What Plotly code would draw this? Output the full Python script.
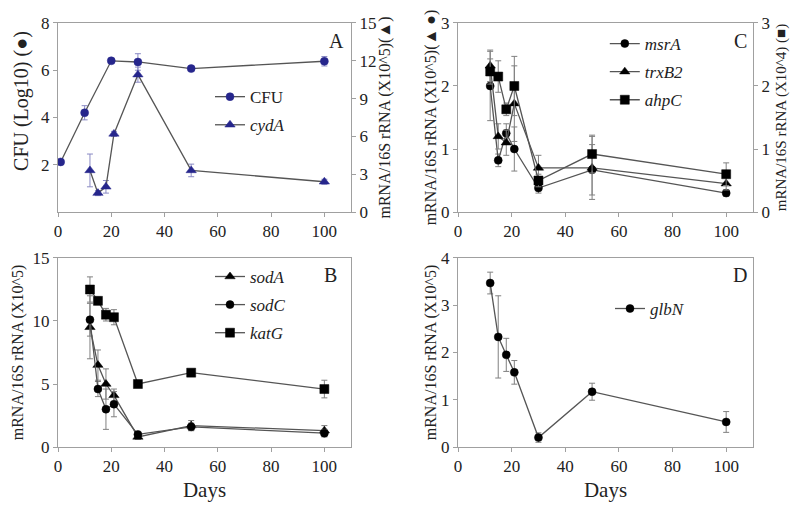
import plotly.graph_objects as go

# ---------------- data ----------------
# Panel A
cfu_days = [1, 10, 20, 30, 50, 100]
cfu_vals = [2.12, 4.2, 6.4, 6.35, 6.07, 6.38]
cfu_err = [0.06, 0.3, 0.08, 0.35, 0.08, 0.2]
cyd_days = [12, 15, 18, 21, 30, 50, 100]
cyd_vals = [3.3, 1.5, 2.0, 6.2, 10.9, 3.3, 2.4]
cyd_err = [1.3, 0.2, 0.5, 0.2, 0.6, 0.5, 0.2]

# Panel C
c_days = [12, 15, 18, 21, 30, 50, 100]
msrA_vals = [2.0, 0.82, 1.25, 1.0, 0.38, 0.67, 0.3]
msrA_err = [0.55, 0.1, 0.15, 0.35, 0.08, 0.4, 0.05]
trxB2_vals = [2.32, 1.2, 1.1, 1.72, 0.7, 0.7, 0.45]
trxB2_err = [0.25, 0.2, 0.2, 0.6, 0.2, 0.5, 0.1]
ahpC_vals = [2.23, 2.15, 1.63, 2.0, 0.5, 0.92, 0.6]
ahpC_err = [0.2, 0.25, 0.1, 0.47, 0.1, 0.3, 0.18]

# Panel B
b_days = [12, 15, 18, 21, 30, 50, 100]
sodA_vals = [9.5, 6.5, 5.0, 4.1, 0.8, 1.7, 1.3]
sodA_err = [2.5, 1.2, 1.2, 0.5, 0.2, 0.4, 0.4]
sodC_vals = [10.1, 4.6, 3.0, 3.4, 1.0, 1.6, 1.1]
sodC_err = [1.3, 0.6, 1.6, 1.0, 0.15, 0.3, 0.3]
katG_vals = [12.5, 11.6, 10.5, 10.3, 5.0, 5.9, 4.6]
katG_err = [1.0, 0.3, 0.5, 0.6, 0.2, 0.2, 0.7]

# Panel D
d_days = [12, 15, 18, 21, 30, 50, 100]
glbN_vals = [3.47, 2.33, 1.95, 1.58, 0.2, 1.17, 0.53]
glbN_err = [0.23, 0.87, 0.35, 0.25, 0.1, 0.18, 0.22]

x_ticks = [0, 20, 40, 60, 80, 100]

# ---------------- styling ----------------
SERIF = "Liberation Serif"
LINE = "#555555"
NAVY = "#26268c"
BLUE_ERR = "#8a8ac4"
GRAY_ERR = "#808080"
AX = "#a0a0a0"

fig = go.Figure()


def add(x, y, err, name, symbol, size, color, ecolor, xa, ya, legend, group):
    fig.add_trace(go.Scatter(
        x=x, y=y, name=name, mode="lines+markers",
        line=dict(color=LINE, width=1.3),
        marker=dict(symbol=symbol, size=size, color=color,
                    line=dict(color=color, width=0.5)),
        error_y=dict(type="data", array=err, visible=True, color=ecolor,
                     thickness=1, width=3),
        xaxis=xa, yaxis=ya, legend=legend, legendgroup=group,
    ))


add(cfu_days, cfu_vals, cfu_err, "CFU", "circle", 8, NAVY, BLUE_ERR, "x", "y", "legend", "a1")
add(cyd_days, cyd_vals, cyd_err, "<i>cydA</i>", "triangle-up", 9, NAVY, BLUE_ERR, "x", "y2", "legend", "a2")

add(c_days, msrA_vals, msrA_err, "<i>msrA</i>", "circle", 8, "black", GRAY_ERR, "x2", "y3", "legend2", "c1")
add(c_days, trxB2_vals, trxB2_err, "<i>trxB2</i>", "triangle-up", 9, "black", GRAY_ERR, "x2", "y3", "legend2", "c2")
add(c_days, ahpC_vals, ahpC_err, "<i>ahpC</i>", "square", 9, "black", GRAY_ERR, "x2", "y4", "legend2", "c3")

add(b_days, sodA_vals, sodA_err, "<i>sodA</i>", "triangle-up", 9, "black", GRAY_ERR, "x3", "y5", "legend3", "b1")
add(b_days, sodC_vals, sodC_err, "<i>sodC</i>", "circle", 8, "black", GRAY_ERR, "x3", "y5", "legend3", "b2")
add(b_days, katG_vals, katG_err, "<i>katG</i>", "square", 9, "black", GRAY_ERR, "x3", "y5", "legend3", "b3")

add(d_days, glbN_vals, glbN_err, "<i>glbN</i>", "circle", 8, "black", GRAY_ERR, "x4", "y6", "legend4", "d1")

tickfont = dict(family=SERIF, size=17, color="#222")


def xax(domain, anchor, title=None):
    d = dict(domain=domain, anchor=anchor, range=[0, 110], tickvals=x_ticks,
             showline=True, linecolor=AX, linewidth=1, mirror=True,
             ticks="outside", ticklen=4, tickcolor=AX, showgrid=False,
             zeroline=False, tickfont=tickfont, automargin=False)
    if title:
        d["title"] = dict(text=title, font=dict(family=SERIF, size=21, color="#222"), standoff=6)
    return d


def yax(domain, anchor, rng, tickvals, title, side="left", overlaying=None, mirror=False,
        standoff=4, tsize=16):
    d = dict(range=rng, tickvals=tickvals, showline=True, linecolor=AX, linewidth=1,
             mirror=mirror, ticks="outside", ticklen=4, tickcolor=AX, showgrid=False,
             zeroline=False, tickfont=tickfont, side=side, anchor=anchor, automargin=False)
    if title:
        d["title"] = dict(text=title, font=dict(family=SERIF, size=tsize, color="#222"),
                          standoff=standoff)
    if overlaying:
        d["overlaying"] = overlaying
    else:
        d["domain"] = domain
    return d


# page body has an 8px margin, so domains are offset by 8px left/up
xa_dom_left = [0.0625, 0.42875]
xa_dom_right = [0.5625, 0.93125]
ya_dom_top = [0.5984, 0.9705]
ya_dom_bot = [0.1358, 0.5079]

fig.update_layout(
    width=800, height=508,
    margin=dict(l=0, r=0, t=0, b=0, autoexpand=False),
    paper_bgcolor="white", plot_bgcolor="white",
    font=dict(family=SERIF, color="#222"),
    xaxis=xax(xa_dom_left, "y"),
    yaxis=yax(ya_dom_top, "x", [0, 8], [2, 4, 6, 8], None),
    yaxis2=yax(None, "x", [0, 15], [0, 3, 6, 9, 12, 15], "mRNA/16S rRNA (X10^5)(▲)",
               side="right", overlaying="y", standoff=2),
    xaxis2=xax(xa_dom_right, "y3"),
    yaxis3=yax(ya_dom_top, "x2", [0, 3], [0, 1, 2, 3], "mRNA/16S rRNA (X10^5)(▲ ●)", standoff=0),
    yaxis4=yax(None, "x2", [0, 3], [0, 1, 2, 3], "mRNA/16S rRNA (X10^4) (■)",
               side="right", overlaying="y3", standoff=6, tsize=15),
    xaxis3=xax(xa_dom_left, "y5", "Days"),
    yaxis5=yax(ya_dom_bot, "x3", [0, 15], [0, 5, 10, 15], "mRNA/16S rRNA (X10^5)", mirror=True),
    xaxis4=xax(xa_dom_right, "y6", "Days"),
    yaxis6=yax(ya_dom_bot, "x4", [0, 4], [0, 1, 2, 3, 4], "mRNA/16S rRNA (X10^5)", mirror=True,
               standoff=0),
)

# left title of panel A (sits above the axis centre in the original)
fig.add_annotation(text="CFU (Log10) (●)", x=0.0175, y=0.817, xref="paper", yref="paper",
                   xanchor="center", yanchor="middle",
                   showarrow=False, textangle=-90,
                   font=dict(family=SERIF, size=20, color="#222"))

leg_common = dict(font=dict(family=SERIF, size=17, color="#222"), bgcolor="rgba(0,0,0,0)",
                  xanchor="left", yanchor="top", tracegroupgap=3, itemwidth=30)
fig.update_layout(
    legend=dict(x=0.2525, y=0.860, **leg_common),
    legend2=dict(x=0.746, y=0.9646, **leg_common),
    legend3=dict(x=0.2525, y=0.506, **leg_common),
    legend4=dict(x=0.7525, y=0.443, **leg_common),
)

for txt, x, y in [("A", 0.411, 0.935), ("C", 0.915, 0.935), ("B", 0.4025, 0.4744), ("D", 0.915, 0.4744)]:
    fig.add_annotation(text=txt, x=x, y=y, xref="paper", yref="paper", showarrow=False,
                       xanchor="center", yanchor="middle",
                       font=dict(family=SERIF, size=20, color="#222"))

fig.write_html("out.html")
